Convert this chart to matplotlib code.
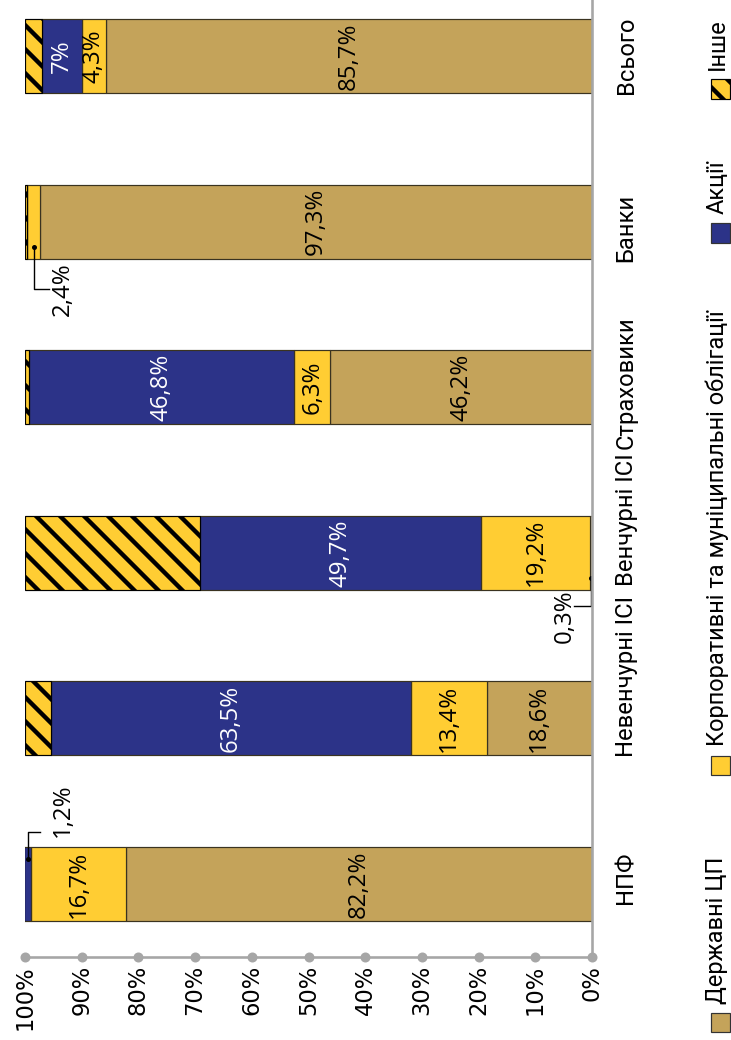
import matplotlib.pyplot as plt
from matplotlib.patches import Rectangle

# data
categories = ["НПФ", "Невенчурні ІСІ", "Венчурні ІСІ", "Страховики", "Банки", "Всього"]
gov = [82.2, 18.6, 0.3, 46.2, 97.3, 85.7]
corp = [16.7, 13.4, 19.2, 6.3, 2.4, 4.3]
shares = [1.2, 63.5, 49.7, 46.8, 0.0, 7.0]
other = [0.0, 4.5, 30.8, 0.7, 0.3, 3.0]
series_names = ["Державні ЦП", "Корпоративні та муніципальні облігації", "Акції", "Інше"]
ticks = [0, 10, 20, 30, 40, 50, 60, 70, 80, 90, 100]

colors = ["#C4A35A", "#FFCD33", "#2C3388", "#FFCD33"]
text_colors = ["black", "black", "white", "black"]
gray = "#A6A6A6"
cond = ["Roboto", "DejaVu Sans"]

plt.rcParams["hatch.linewidth"] = 2.2

W, H, DPI = 731, 1040, 144
fig = plt.figure(figsize=(W / DPI, H / DPI), dpi=DPI)
ax = fig.add_axes([25 / W, 83 / H, 567 / W, 957 / H])

ypos = list(range(len(categories)))
bar_h = 0.447
series = [gov, corp, shares, other]

# labels drawn outside the bar with a leader line:
# (category, series) -> (corner offset, leader run, text x gap, text y offset)
callouts = {(0, 2): (0.314, -2.2, -6.1, 0.447),
            (2, 0): (-0.32, 3.0, 4.65, -0.38),
            (4, 1): (-0.407, -2.7, -5.2, -0.41)}

left = [0.0] * len(categories)
for s, vals in enumerate(series):
    hatch = "\\\\" if s == 3 else None
    ec = "black" if s == 3 else "#3a3320"
    ax.barh(ypos, vals, left=left, height=bar_h, color=colors[s],
            edgecolor=ec, linewidth=0.6, hatch=hatch)
    for i, v in enumerate(vals):
        if v > 0 and s < 3 and (i, s) not in callouts:
            lab = f"{v:g}".replace(".", ",") + "%"
            ax.text(left[i] + v / 2, i, lab, rotation=90, ha="center", va="center",
                    fontsize=12, color=text_colors[s], family="Open Sans")
    left = [a + b for a, b in zip(left, vals)]

for (i, s), (off, run, gap, toff) in callouts.items():
    start = sum(series[k][i] for k in range(s))
    v = series[s][i]
    cx = start + v / 2
    dot_y = i + (bar_h / 2 - 0.07) * (1 if off > 0 else -1)
    ax.plot([cx, cx, cx + run], [dot_y, i + off, i + off], color="black", lw=0.7, clip_on=False)
    ax.plot([cx], [dot_y], marker="o", ms=1.5, color="black")
    lab = f"{v:g}".replace(".", ",") + "%"
    ax.text(cx + gap, i + toff, lab, rotation=90, ha="center", va="center",
            fontsize=12, family="Open Sans", clip_on=False)

ax.set_xlim(100, 0)
ax.set_ylim(-0.441, 5.338)

for sp in ["top", "left", "bottom"]:
    ax.spines[sp].set_visible(False)
ax.spines["right"].set_color(gray)
ax.spines["right"].set_linewidth(1.3)

ax.plot(ticks, [-0.441] * len(ticks), color=gray, lw=1.3, marker="o", ms=4, clip_on=False, zorder=5)
ax.set_xticks(ticks)
ax.set_xticklabels([f"{t}%" for t in ticks], rotation=90, fontsize=11.3)
ax.tick_params(axis="x", length=0, pad=4)
ax.set_yticks([])

# category labels are not exactly centred on their bars in the original
label_shift = [0.036, 0.256, 0.198, 0.025, -0.039, 0.006]
for i, c in enumerate(categories):
    ax.text(-6, i + label_shift[i], c, rotation=90, ha="center", va="center", fontsize=11.9,
            family=cond, clip_on=False)

# legend, drawn by hand
legend_y = [1022, 765, 233, 89]
sw = 19
for k, name in enumerate(series_names):
    yc = legend_y[k]
    r = Rectangle(((720 - sw / 2) / W, (H - yc - sw / 2) / H), sw / W, sw / H,
                  transform=fig.transFigure, facecolor=colors[k],
                  edgecolor="#333333" if k < 3 else "black",
                  linewidth=0.6, hatch="\\\\" if k == 3 else None)
    fig.patches.append(r)
    fig.text(717 / W, 1 - (yc - sw / 2 - 9) / H, name, rotation=90, ha="center", va="bottom",
             fontsize=11.8, family=cond)

fig.savefig("out.png", dpi=DPI)
